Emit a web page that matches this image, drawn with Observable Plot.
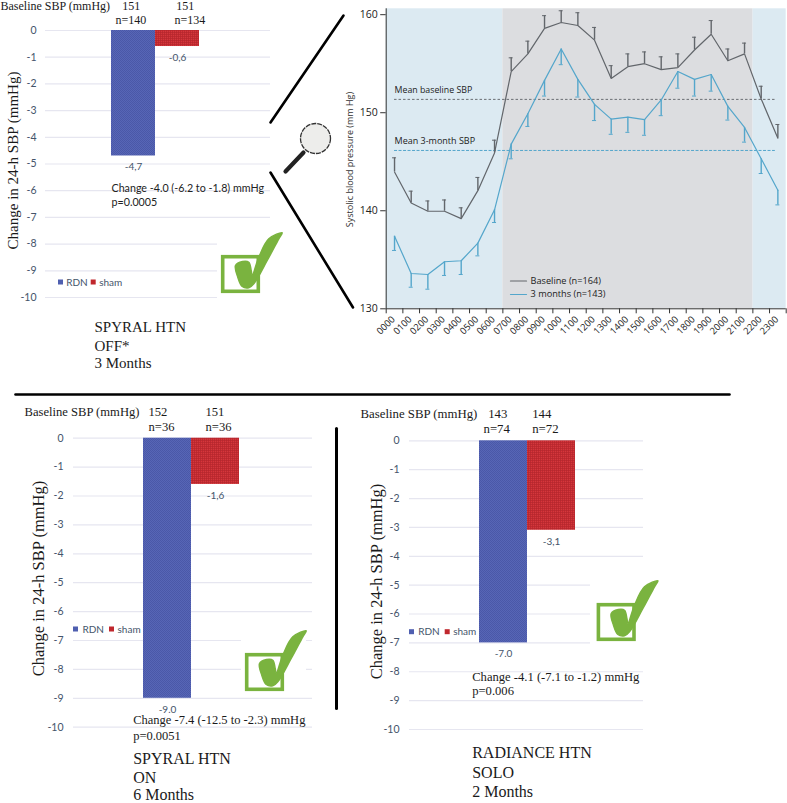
<!DOCTYPE html>
<html><head><meta charset="utf-8">
<script src="https://cdn.jsdelivr.net/npm/d3@7"></script>
<script src="https://cdn.jsdelivr.net/npm/@observablehq/plot@0.6"></script>
<style>
html,body{margin:0;padding:0;background:#fff;overflow:hidden}
#page{position:relative;width:787px;height:803px;overflow:hidden}
#page>svg{position:absolute;left:0;top:0}
</style></head><body>
<svg width="0" height="0" style="position:absolute">
<defs>
<pattern id="ditherBlue" width="2" height="2" patternUnits="userSpaceOnUse"><rect width="2" height="2" fill="#5766b6"/><rect width="1" height="1" fill="#4a58a8"/><rect x="1" y="1" width="1" height="1" fill="#4a58a8"/></pattern>
<pattern id="ditherRed" width="2" height="2" patternUnits="userSpaceOnUse"><rect width="2" height="2" fill="#c4282e"/><rect width="1" height="1" fill="#b32a30"/><rect x="1" y="1" width="1" height="1" fill="#cf3a3f"/></pattern>
</defs></svg>
<div id="page"></div>
<script>
// ---- Data ----
const groups = ["RDN", "sham"];
const changeTicks = [0, -1, -2, -3, -4, -5, -6, -7, -8, -9, -10];
const offChange = [-4.7, -0.6];
const offLabels = ["-4,7", "-0,6"];
const onChange = [-9.0, -1.6];
const onLabels = ["-9.0", "-1,6"];
const soloChange = [-7.0, -3.1];
const soloLabels = ["-7.0", "-3,1"];

const hourLabels = ["0000","0100","0200","0300","0400","0500","0600","0700","0800","0900","1000","1100","1200","1300","1400","1500","1600","1700","1800","1900","2000","2100","2200","2300"];
const baselineSBP = [143.95,140.8,139.95,139.95,139.2,142.05,145.9,154.2,156.0,158.6,159.2,158.9,157.4,153.5,154.7,155.0,154.4,154.6,156.4,158.0,155.3,156.0,151.4,147.4];
const baselineUpper = [145.4,142.0,141.0,141.1,140.3,143.4,147.2,155.6,157.3,159.9,160.4,160.2,158.7,154.8,156.0,156.2,155.7,156.0,157.7,159.4,156.5,157.1,152.7,148.8];
const monthSBP = [137.4,133.6,133.5,134.8,134.9,136.7,140.1,146.8,149.9,153.3,156.5,153.4,150.85,149.35,149.55,149.3,151.3,154.2,153.4,153.9,150.65,148.5,145.3,142.1];
const monthLower = [135.95,132.2,132.0,133.4,133.5,135.4,138.8,145.3,148.6,151.7,154.9,151.6,149.2,147.8,148.0,147.7,149.7,152.5,151.7,152.2,149.25,147.0,143.8,140.6];
const meanBaseline = 151.36;
const meanMonth = 146.15;
const nightBands = [[0, 7], [22, 24]];
const dayBand = [7, 22];

// ---- Styles ----
const SERIF = "'Liberation Serif', serif";
const SANS = "Lato, sans-serif";
const LANCET = "'Open Sans', sans-serif";
const AXISINK = "#44546a";
const GREEN = "#7ab33f";
const GREY = "#62666b";
const TEAL = "#54a6cb";

const page = document.getElementById("page");
const W = 787, H = 803;

function barPanel({left, right, top, bottom, barFrom, barTo, tickEdge, values, labels}) {
  const rows = groups.map((g, i) => ({g, v: values[i], t: labels[i]}));
  page.append(Plot.plot({
    width: W, height: H, style: {background: "transparent", overflow: "visible"},
    marginLeft: left, marginRight: W - right, marginTop: top, marginBottom: H - bottom,
    x: {type: "band", domain: groups, range: [barFrom, barTo], padding: 0, axis: null},
    y: {domain: [-10, 0], axis: null},
    marks: [
      Plot.ruleY(changeTicks, {stroke: "#e6e6f0", strokeWidth: 1.2}),
      Plot.axisY(changeTicks, {anchor: "left", tickSize: 0, tickPadding: left - tickEdge, tickFormat: d => String(d), label: null, fontFamily: SANS, fontSize: 10.5, fill: AXISINK}),
      Plot.barY(rows.filter(d => d.g === "RDN"), {x: "g", y1: 0, y2: "v", fill: "url(#ditherBlue)"}),
      Plot.barY(rows.filter(d => d.g === "sham"), {x: "g", y1: 0, y2: "v", fill: "url(#ditherRed)"}),
      Plot.text(rows, {x: "g", y: "v", text: "t", dy: 11, fontFamily: SANS, fontSize: 10, fill: AXISINK})
    ]
  }));
}

barPanel({left: 45, right: 270, top: 30, bottom: 297, barFrom: 110, barTo: 199.5, tickEdge: 36, values: offChange, labels: offLabels});
barPanel({left: 73, right: 312, top: 437.7, bottom: 726.7, barFrom: 142.7, barTo: 239.7, tickEdge: 63, values: onChange, labels: onLabels});
barPanel({left: 409, right: 643, top: 440.3, bottom: 729, barFrom: 478.7, barTo: 575.7, tickEdge: 399, values: soloChange, labels: soloLabels});

// ---- Ambulatory pressure panel ----
const hourly = hourLabels.map((label, i) => ({
  label, h: i + 0.5, base: baselineSBP[i], up: baselineUpper[i], month: monthSBP[i], low: monthLower[i]
}));
page.append(Plot.plot({
  width: W, height: H, style: {background: "transparent", overflow: "visible"},
  marginLeft: 385.7, marginRight: 1.3, marginTop: 8.3, marginBottom: H - 308.3,
  x: {domain: [0, 24], axis: null},
  y: {domain: [130, 160.6], axis: null},
  marks: [
    Plot.rect(nightBands, {x1: d => d[0], x2: d => d[1], fill: "#dceaf2"}),
    Plot.rect([dayBand], {x1: d => d[0], x2: d => d[1], fill: "#dcdde0"}),
    Plot.ruleY([meanBaseline], {x1: 0.5, x2: 23.35, stroke: "#6a6e73", strokeWidth: 1, strokeDasharray: "2.5,2"}),
    Plot.ruleY([meanMonth], {x1: 0.5, x2: 23.35, stroke: TEAL, strokeWidth: 1, strokeDasharray: "3,1.5"}),
    Plot.ruleX(hourly, {x: "h", y1: "base", y2: "up", stroke: GREY, strokeWidth: 1.4}),
    Plot.ruleY(hourly, {y: "up", x1: d => d.h - 0.12, x2: d => d.h + 0.12, stroke: GREY, strokeWidth: 1}),
    Plot.ruleX(hourly, {x: "h", y1: "month", y2: "low", stroke: TEAL, strokeWidth: 1.4}),
    Plot.ruleY(hourly, {y: "low", x1: d => d.h - 0.12, x2: d => d.h + 0.12, stroke: TEAL, strokeWidth: 1}),
    Plot.line(hourly, {x: "h", y: "base", stroke: GREY, strokeWidth: 1.2}),
    Plot.line(hourly, {x: "h", y: "month", stroke: TEAL, strokeWidth: 1.2}),
    Plot.text(["Mean baseline SBP"], {x: 0.5, y: meanBaseline, dy: -9, textAnchor: "start", fontFamily: LANCET, fontSize: 8.8, fill: "#222"}),
    Plot.text(["Mean 3-month SBP"], {x: 0.5, y: meanMonth, dy: -9, textAnchor: "start", fontFamily: LANCET, fontSize: 9, fill: "#222"}),
    Plot.ruleX([0], {stroke: "#333", strokeWidth: 1}),
    Plot.ruleY([130], {stroke: "#333", strokeWidth: 1}),
    Plot.axisY([130, 140, 150, 160], {anchor: "left", tickSize: 5.5, tickPadding: 3, label: null, fontFamily: LANCET, fontSize: 10.5, fill: "#222", stroke: "#333"}),
    Plot.axisX(d3.range(0, 25), {anchor: "bottom", tickSize: 5, tickFormat: null, text: null, label: null, stroke: "#333"}),
    Plot.text(hourly, {x: "h", y: 130, text: "label", rotate: -45, textAnchor: "end", dy: 9, dx: -1, fontFamily: LANCET, fontSize: 9.4, fill: "#222"})
  ]
}));

// ---- Page-level annotations, in page pixels ----
function note(t, x, y, o = {}) {
  return Plot.text([t], {x: () => x, y: () => y, text: d => d, textAnchor: o.anchor || "start",
    fontFamily: o.font || SERIF, fontSize: o.size || 12, fill: o.fill || "#1a1a1a", rotate: o.rotate || 0});
}
function seg(a, b, c, d, stroke = "#000", strokeWidth = 2.6) {
  return Plot.line([[a, b], [c, d]], {x: p => p[0], y: p => p[1], stroke, strokeWidth, strokeLinecap: "round"});
}
const checkOutline = [[14,10],[21,6],[27.3,6.7],[29.7,15],[30.7,20],[37.3,1.7],[47.3,-16.7],[60.7,-22.7],[57.3,-16.7],[45.7,5],[32.3,28.3],[27.3,32.3],[20.7,31],[16.3,21.7]];
function checkBox(bx, by) {
  return [
    Plot.rect([0], {x1: () => bx + 1.7, x2: () => bx + 37.3, y1: () => by + 1.7, y2: () => by + 36.3, fill: "#fff", stroke: GREEN, strokeWidth: 3.6}),
    Plot.line(checkOutline, {x: p => bx + p[0], y: p => by + p[1], fill: GREEN, stroke: GREEN, strokeWidth: 1.5, curve: "catmull-rom-closed", strokeLinejoin: "round"})
  ];
}
function patch(a, b, c, d) {
  return Plot.rect([0], {x1: () => a, x2: () => b, y1: () => c, y2: () => d, fill: "#fff"});
}
function legendKey(x, y, rdnDX, shamDX) {
  return [
    Plot.rect([0], {x1: () => x, x2: () => x + 5, y1: () => y - 2.5, y2: () => y + 2.5, fill: "#4f5fb0"}),
    note("RDN", x + rdnDX, y, {font: SANS, size: 10, fill: AXISINK}),
    Plot.rect([0], {x1: () => x + shamDX, x2: () => x + shamDX + 5, y1: () => y - 2.5, y2: () => y + 2.5, fill: "#c0272d"}),
    note("sham", x + shamDX + 8, y, {font: SANS, size: 10, fill: AXISINK})
  ];
}

page.append(Plot.plot({
  width: W, height: H, margin: 0, style: {background: "transparent", overflow: "visible"},
  x: {domain: [0, W], range: [0, W], axis: null},
  y: {domain: [0, H], range: [0, H], axis: null},
  marks: [
    // white patches that interrupt the grid lines
    patch(217, 271, 225, 300), patch(241, 306, 630, 694), patch(590, 644, 565, 655),

    // zoom lines + magnifier
    seg(270, 122, 343, 15), seg(270, 172, 352.5, 307),
    seg(285, 171, 303, 152, "#222", 4.2),
    Plot.dot([0], {x: () => 315, y: () => 138, r: 15, fill: "#ededeb", stroke: "#333", strokeWidth: 1.3, strokeDasharray: "5,1"}),

    // dividers
    seg(15, 394, 729, 394, "#000", 2.6), seg(336, 428, 336, 708, "#000", 3),

    // Panel A
    note("Baseline SBP (mmHg)", 0, 6), note("151", 121.7, 6), note("151", 175.7, 6),
    note("n=140", 115, 19.5), note("n=134", 174, 19.5),
    note("Change in 24-h SBP (mmHg)", 13, 160, {rotate: -90, size: 15, anchor: "middle"}),
    note("Change -4.0 (-6.2 to -1.8) mmHg", 111, 188, {font: SANS, size: 10.7, fill: "#222"}),
    note("p=0.0005", 111, 202.5, {font: SANS, size: 10.7, fill: "#222"}),
    note("SPYRAL HTN", 94, 327, {size: 15}), note("OFF*", 94, 345.5, {size: 15}), note("3 Months", 94, 363, {size: 15}),
    ...legendKey(58, 282, 7.7, 32.7),
    ...checkBox(221, 255),

    // Panel C
    note("Baseline SBP (mmHg)", 24, 411, {size: 12.6}), note("152", 148, 411, {size: 12.6}), note("151", 205, 411, {size: 12.6}),
    note("n=36", 148, 426, {size: 12.6}), note("n=36", 205, 426, {size: 12.6}),
    note("Change in 24-h SBP (mmHg)", 38, 578, {rotate: -90, size: 16.5, anchor: "middle"}),
    note("Change -7.4 (-12.5 to -2.3) mmHg", 132.7, 719.5, {size: 12.5}),
    note("p=0.0051", 132.7, 735, {size: 12.5}),
    note("SPYRAL HTN", 132.7, 758, {size: 16}), note("ON", 132.7, 777, {size: 16}), note("6 Months", 132.7, 794.5, {size: 16}),
    ...legendKey(73, 629, 9, 36),
    ...checkBox(245, 653),

    // Panel D
    note("Baseline SBP (mmHg)", 360, 413, {size: 12.8}), note("143", 487.7, 413, {size: 12.8}), note("144", 531.7, 413, {size: 12.8}),
    note("n=74", 483, 428.7, {size: 12.8}), note("n=72", 531.7, 428.7, {size: 12.8}),
    note("Change in 24-h SBP (mmHg)", 376, 581, {rotate: -90, size: 16.5, anchor: "middle"}),
    note("Change -4.1 (-7.1 to -1.2) mmHg", 471.7, 676, {size: 12.6}),
    note("p=0.006", 471.7, 690.7, {size: 12.6}),
    note("RADIANCE HTN", 471.7, 752.7, {size: 16}), note("SOLO", 471.7, 772, {size: 16}), note("2 Months", 471.7, 791.7, {size: 16}),
    ...legendKey(409, 631.7, 8.7, 35.7),
    ...checkBox(596.7, 603),

    // Panel B labels
    note("Systolic blood pressure (mm Hg)", 350, 159, {rotate: -90, font: LANCET, size: 9, anchor: "middle", fill: "#333"}),
    seg(510, 280.5, 526, 280.5, GREY, 1.2),
    seg(510, 294, 526, 294, TEAL, 1.2),
    note("Baseline (n=164)", 530, 280.5, {font: LANCET, size: 9.2, fill: "#222"}),
    note("3 months (n=143)", 530, 294, {font: LANCET, size: 9.2, fill: "#222"})
  ]
}));
</script>
</body></html>
